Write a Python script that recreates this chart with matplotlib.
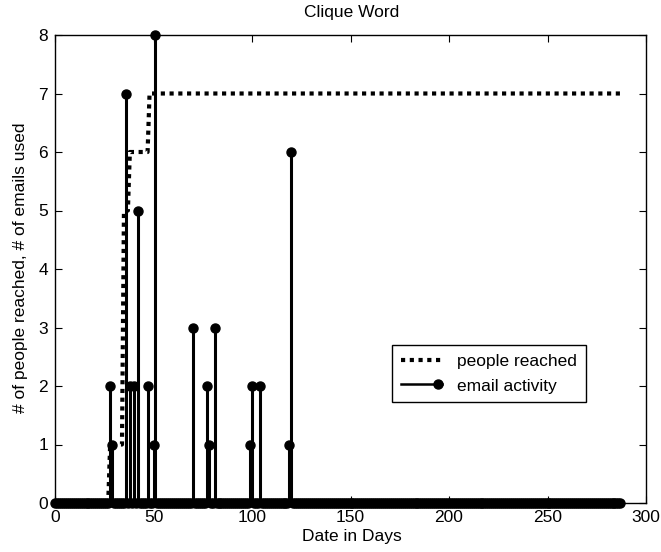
import numpy as np
import matplotlib
matplotlib.use("Agg")
import matplotlib.pyplot as plt
from matplotlib.lines import Line2D
from matplotlib.legend_handler import HandlerBase

plt.rcParams['font.family'] = ['Liberation Sans', 'DejaVu Sans']

# ---- data ----
first_day = 0
last_day = 287
# email activity: days with nonzero number of emails
email_days = [28, 29, 36, 38, 40, 42, 47, 50, 51, 70, 77, 78, 81, 99, 100, 104, 119, 120]
email_counts = [2, 1, 7, 2, 2, 5, 2, 1, 8, 3, 2, 1, 3, 1, 2, 2, 1, 6]
# people reached: cumulative level, given at the days where it changes
reach_days = [0, 28, 35, 38, 48]
reach_levels = [0, 1, 5, 6, 7]

title = "Clique Word"
xlabel = "Date in Days"
ylabel = "# of people reached, # of emails used"
legend_labels = ["people reached", "email activity"]
xticks = [0, 50, 100, 150, 200, 250, 300]
yticks = [0, 1, 2, 3, 4, 5, 6, 7, 8]

# ---- build daily series ----
days = np.arange(first_day, last_day + 1)
emails = np.zeros(len(days))
for d, c in zip(email_days, email_counts):
    emails[d - first_day] = c
reached = np.zeros(len(days))
for d, v in zip(reach_days, reach_levels):
    reached[d - first_day:] = v

W, H = 661, 552
fig = plt.figure(figsize=(W / 100, H / 100), dpi=100)
ax = fig.add_axes([55 / W, (H - 503) / H, 591 / W, 468 / H])

FS = 12.5

line_reach, = ax.plot(days, reached, color='k', lw=3.0,
                      linestyle=(0, (1, 1.1)), dash_capstyle='butt',
                      clip_on=False, zorder=3)

markerline, stemlines, baseline = ax.stem(days, emails, linefmt='k-',
                                          markerfmt='ko', basefmt=' ')
markerline.set_markersize(6.5)
markerline.set_clip_on(False)
markerline.set_zorder(4)
stemlines.set_linewidth(2.2)
stemlines.set_clip_on(False)
stemlines.set_zorder(4)

ax.set_xlim(0, 300)
ax.set_ylim(0, 8)
ax.set_xticks(xticks)
ax.set_yticks(yticks)
ax.tick_params(direction='in', length=5, width=0.8, top=True, right=True,
               labelsize=FS, pad=5)
for s in ax.spines.values():
    s.set_linewidth(1.0)

fig.text(352 / W, 1 - 13 / H, title, ha='center', va='center', fontsize=FS)
fig.text(352 / W, 1 - 537 / H, xlabel, ha='center', va='center', fontsize=FS)
fig.text(21 / W, 1 - 268 / H, ylabel, ha='center', va='center',
         rotation=90, fontsize=FS)


class EndMarkerHandler(HandlerBase):
    def create_artists(self, legend, orig_handle, xdescent, ydescent,
                       width, height, fontsize, trans):
        y = height / 2 - ydescent
        ln = Line2D([-xdescent, width - xdescent], [y, y], color='k', lw=1.8,
                    transform=trans)
        mk = Line2D([width - xdescent - 3], [y], marker='o', ms=6.5, color='k',
                    linestyle='none', transform=trans)
        return [ln, mk]


email_handle = Line2D([], [], color='k', lw=1.8, marker='o')
leg = ax.legend([line_reach, email_handle], legend_labels,
                handler_map={email_handle: EndMarkerHandler()},
                loc='upper left', bbox_to_anchor=(0.570, 0.3376),
                borderaxespad=0, fontsize=FS, frameon=True, fancybox=False,
                framealpha=1, edgecolor='k', borderpad=0.5, labelspacing=0.55,
                handlelength=2.4, handletextpad=0.85)
leg.get_frame().set_linewidth(1.0)

fig.savefig("out.png", dpi=100)
